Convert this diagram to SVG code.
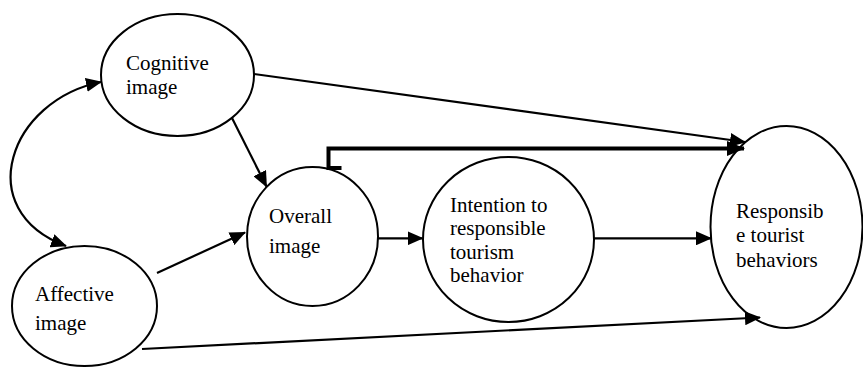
<svg xmlns="http://www.w3.org/2000/svg" width="863" height="367" viewBox="0 0 863 367">
<style>
.node ellipse{fill:#fff;stroke:#000;stroke-width:2}
.node text{font-family:"Liberation Serif","Times New Roman",serif;font-size:21px;fill:#000}
.edge{fill:none;stroke:#000;stroke-width:2.2}
.thick{fill:none;stroke:#000;stroke-width:4}
</style>
<defs>
<marker id="ah" viewBox="0 0 16 14" refX="15" refY="7" markerWidth="16" markerHeight="14" markerUnits="userSpaceOnUse" orient="auto-start-reverse">
<path d="M0,0 L16,7 L0,14 z" fill="#000"/>
</marker>
<marker id="ahb" viewBox="0 0 18 15" refX="17" refY="7.5" markerWidth="18" markerHeight="15" markerUnits="userSpaceOnUse" orient="auto">
<path d="M0,0 L18,7.5 L0,15 z" fill="#000"/>
</marker>
</defs>
<rect width="863" height="367" fill="#fff"/>
<g id="cognitive" class="node">
<ellipse cx="177.5" cy="75" rx="76.5" ry="61"/>
<text x="126" y="70">Cognitive</text>
<text x="126" y="94">image</text>
</g>
<g id="affective" class="node">
<ellipse cx="84.5" cy="306" rx="72.5" ry="60"/>
<text x="35" y="301">Affective</text>
<text x="35" y="330">image</text>
</g>
<g id="overall" class="node">
<ellipse cx="312.5" cy="236.5" rx="65.5" ry="69.5"/>
<text x="269" y="223">Overall</text>
<text x="269" y="253">image</text>
</g>
<g id="intention" class="node">
<ellipse cx="508.5" cy="239.5" rx="85.5" ry="82.5"/>
<text x="450" y="212">Intention to</text>
<text x="450" y="235">responsible</text>
<text x="450" y="259">tourism</text>
<text x="450" y="282">behavior</text>
</g>
<g id="responsible" class="node">
<ellipse cx="786.5" cy="227" rx="76" ry="101"/>
<text x="736" y="218">Responsib</text>
<text x="736" y="242">e tourist</text>
<text x="736" y="267">behaviors</text>
</g>
<g id="connectors">
<path class="edge" d="M101,82 C10,100 -30,210 66,246" marker-start="url(#ah)" marker-end="url(#ah)"/>
<line class="edge" x1="254" y1="74" x2="745" y2="142" marker-end="url(#ah)"/>
<path class="thick" d="M341.5,168 H328.5 V148.5 H744" marker-end="url(#ahb)"/>
<line class="edge" x1="232" y1="118" x2="266.5" y2="186.5" marker-end="url(#ah)"/>
<line class="edge" x1="157" y1="273" x2="245" y2="232.5" marker-end="url(#ah)"/>
<line class="edge" x1="378" y1="238.3" x2="422.5" y2="238.3" marker-end="url(#ah)"/>
<line class="edge" x1="594" y1="238.3" x2="711" y2="238.3" marker-end="url(#ah)"/>
<line class="edge" x1="142" y1="349" x2="760" y2="317.5" marker-end="url(#ah)"/>
</g>
</svg>
